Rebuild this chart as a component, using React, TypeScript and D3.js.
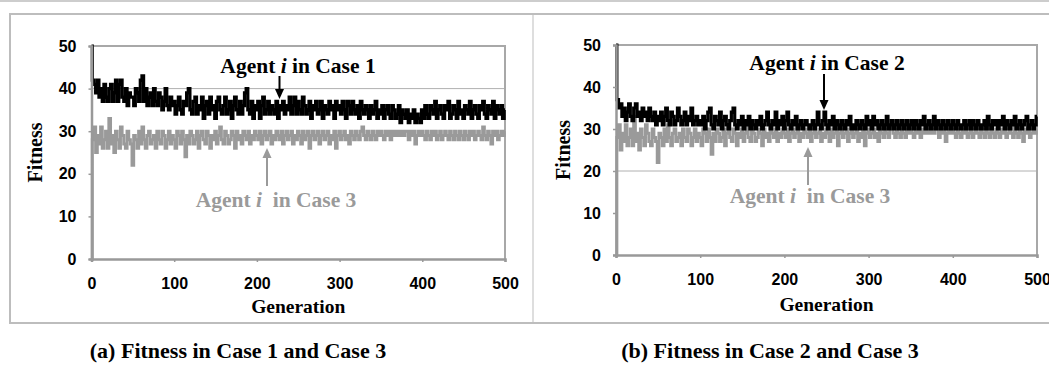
import React, {useEffect, useRef} from "react";
import * as d3 from "d3";

// fitness, one value every 2 generations (0..500)
const generationStep = 2;

const case1Fitness = [
    50, 42, 41, 39, 42, 38, 40, 37, 41, 38, 37, 40, 41, 37, 39, 42, 37, 41, 42, 38, 37, 40, 36, 39, 38,
    38, 36, 40, 39, 37, 42, 43, 37, 40, 36, 38, 39, 36, 40, 37, 36, 39, 38, 35, 37, 40, 36, 35, 38, 36,
    37, 34, 36, 38, 35, 34, 37, 36, 39, 40, 35, 34, 37, 38, 34, 36, 35, 38, 33, 36, 37, 34, 38, 35, 36,
    33, 37, 38, 35, 34, 36, 38, 34, 35, 37, 33, 36, 38, 35, 34, 37, 34, 36, 39, 40, 35, 34, 37, 33, 36,
    35, 37, 33, 36, 38, 34, 35, 37, 34, 36, 35, 34, 37, 33, 36, 35, 37, 34, 36, 35, 38, 34, 36, 38, 34,
    37, 35, 34, 38, 36, 34, 35, 37, 33, 36, 35, 37, 34, 35, 37, 33, 36, 35, 34, 37, 35, 36, 33, 37, 35,
    36, 34, 37, 35, 33, 37, 36, 34, 37, 35, 34, 36, 33, 37, 35, 34, 36, 35, 33, 36, 34, 35, 37, 33, 35,
    34, 36, 33, 35, 36, 34, 33, 36, 35, 33, 34, 36, 32, 35, 34, 33, 35, 32, 34, 33, 35, 32, 34, 33, 32,
    35, 33, 36, 34, 33, 36, 35, 34, 37, 33, 35, 36, 34, 33, 36, 35, 37, 33, 34, 36, 35, 33, 37, 34, 35,
    33, 36, 35, 34, 37, 33, 35, 36, 34, 33, 36, 35, 37, 34, 33, 36, 35, 34, 37, 33, 36, 35, 34, 36, 33,
    35
];

const case2Fitness = [
    50, 37, 35, 36, 33, 35, 32, 34, 36, 33, 32, 35, 36, 33, 34, 32, 35, 33, 34, 32, 35, 33, 32, 34, 31,
    33, 32, 34, 31, 33, 35, 32, 31, 34, 33, 31, 32, 35, 33, 31, 32, 34, 31, 33, 32, 35, 31, 32, 33, 31,
    32, 31, 33, 30, 32, 34, 35, 31, 30, 33, 32, 31, 34, 30, 32, 33, 31, 30, 32, 34, 35, 31, 30, 32, 31,
    33, 30, 32, 31, 33, 30, 32, 31, 30, 32, 31, 33, 30, 31, 32, 34, 31, 30, 32, 31, 34, 30, 32, 31, 33,
    30, 32, 34, 31, 30, 32, 31, 33, 30, 31, 32, 30, 31, 32, 31, 30, 31, 32, 30, 31, 34, 31, 30, 32, 34,
    31, 30, 32, 31, 33, 30, 32, 31, 30, 32, 31, 30, 32, 31, 33, 30, 31, 30, 32, 31, 30, 32, 31, 30, 33,
    31, 32, 30, 33, 31, 32, 30, 31, 32, 30, 31, 33, 30, 31, 32, 30, 31, 32, 30, 31, 32, 30, 31, 32, 30,
    31, 32, 30, 32, 31, 30, 32, 31, 33, 30, 31, 32, 30, 31, 33, 30, 32, 31, 30, 32, 31, 30, 32, 31, 30,
    32, 31, 30, 32, 31, 30, 31, 32, 30, 31, 32, 30, 32, 31, 30, 32, 31, 30, 31, 32, 30, 33, 31, 30, 32,
    31, 32, 30, 32, 31, 33, 30, 32, 31, 30, 32, 31, 33, 30, 31, 32, 30, 31, 32, 33, 30, 31, 32, 30, 31,
    33
];

// case 3 is the same run in both panels
const case3Fitness = [
    0, 28, 31, 25, 29, 27, 31, 26, 28, 30, 26, 33, 27, 29, 25, 30, 28, 26, 31, 29, 27, 26, 30, 28, 27,
    22, 29, 28, 26, 30, 27, 31, 28, 26, 29, 30, 27, 28, 29, 26, 30, 28, 27, 30, 29, 26, 28, 30, 27, 29,
    28, 26, 30, 29, 27, 30, 28, 24, 29, 27, 30, 29, 27, 28, 30, 26, 29, 30, 28, 27, 30, 29, 26, 29, 28,
    30, 27, 29, 31, 28, 27, 30, 29, 27, 28, 30, 29, 26, 30, 28, 29, 27, 30, 29, 28, 30, 27, 29, 28, 30,
    29, 28, 30, 27, 29, 30, 28, 29, 30, 27, 29, 28, 30, 29, 28, 30, 27, 29, 30, 28, 29, 30, 27, 29, 28,
    30, 29, 27, 30, 28, 29, 30, 26, 29, 30, 28, 29, 30, 27, 29, 30, 28, 29, 30, 27, 29, 28, 30, 26, 29,
    30, 28, 29, 30, 28, 29, 27, 30, 29, 28, 30, 29, 28, 30, 31, 29, 28, 30, 29, 28, 30, 29, 28, 30, 29,
    30, 29, 28, 30, 29, 30, 28, 30, 29, 30, 29, 30, 29, 30, 29, 30, 30, 28, 30, 29, 30, 27, 29, 30, 29,
    30, 29, 28, 30, 29, 28, 30, 29, 30, 28, 29, 30, 28, 29, 30, 29, 28, 30, 29, 28, 30, 29, 28, 30, 29,
    28, 30, 29, 28, 30, 29, 30, 28, 29, 30, 29, 28, 31, 29, 28, 30, 29, 27, 30, 29, 30, 28, 29, 30, 29,
    30
];

const xTicks = [0, 100, 200, 300, 400, 500];
const yTicks = [0, 10, 20, 30, 40, 50];
const captions = ["(a) Fitness in Case 1 and Case 3", "(b) Fitness in Case 2 and Case 3"];

const BLACK = "#000";
const GRAY = "#9a9a9a";
const FRAME = "#bdbdbd";
const SERIF = "'Liberation Serif', 'Times New Roman', serif";
const SANS = "'Liberation Sans', Arial, sans-serif";

interface PanelCfg {
    left: number;
    right: number;
    top: number;
    bottom: number;
    main: number[];
    caseNo: number;
    gridAt: number;
    caption: string;
    captionX: number;
    fitnessX: number;
    generationY: number;
    mainLabel: {x: number; y: number};
    mainArrow: {x: number; y1: number; y2: number};
    grayLabel: {x: number; y: number};
    grayArrow: {x: number; y1: number; y2: number};
}

const panels: PanelCfg[] = [
    {
        left: 91.5, right: 505, top: 46, bottom: 259, main: case1Fitness, caseNo: 1, gridAt: 40,
        caption: captions[0], captionX: 238, fitnessX: 42, generationY: 313,
        mainLabel: {x: 298, y: 73}, mainArrow: {x: 279.5, y1: 76, y2: 99},
        grayLabel: {x: 276, y: 207}, grayArrow: {x: 267, y1: 186, y2: 148}
    },
    {
        left: 616, right: 1037, top: 45, bottom: 255, main: case2Fitness, caseNo: 2, gridAt: 20,
        caption: captions[1], captionX: 770, fitnessX: 570, generationY: 311,
        mainLabel: {x: 827, y: 70}, mainArrow: {x: 824, y1: 74, y2: 110},
        grayLabel: {x: 810, y: 203}, grayArrow: {x: 808, y1: 185, y2: 147}
    }
];

type Sel = d3.Selection<SVGGElement, unknown, null, undefined>;

function serifText(g: Sel, x: number, y: number, size: number, color: string,
                   parts: {t: string; italic?: boolean}[], rotate = 0) {
    const t = g.append("text")
        .attr("transform", `translate(${x},${y}) rotate(${rotate})`)
        .attr("text-anchor", "middle")
        .attr("font-family", SERIF)
        .attr("font-weight", "bold")
        .attr("font-size", size)
        .attr("fill", color)
        .style("white-space", "pre");
    parts.forEach(p => {
        t.append("tspan").attr("font-style", p.italic ? "italic" : "normal").text(p.t);
    });
}

function arrow(g: Sel, x: number, y1: number, y2: number, color: string) {
    const dir = y2 > y1 ? 1 : -1;
    g.append("line")
        .attr("x1", x).attr("x2", x)
        .attr("y1", y1).attr("y2", y2 - dir * 8)
        .attr("stroke", color).attr("stroke-width", 2);
    g.append("path")
        .attr("d", `M${x - 4.5},${y2 - dir * 10}L${x + 4.5},${y2 - dir * 10}L${x},${y2}Z`)
        .attr("fill", color);
}

const App: React.FC = () => {
    const svgRef = useRef<SVGSVGElement>(null);
    const width = 1049;
    const height = 365;

    useEffect(() => {
        const svg = d3.select(svgRef.current);
        svg.selectAll("*").remove();
        const root = svg.append("g") as unknown as Sel;

        // page frame
        root.append("line").attr("x1", 0).attr("x2", width).attr("y1", 1).attr("y2", 1)
            .attr("stroke", FRAME).attr("stroke-width", 1.5);
        root.append("rect").attr("x", 10).attr("y", 14).attr("width", width + 10).attr("height", 309)
            .attr("fill", "none").attr("stroke", FRAME).attr("stroke-width", 2);
        root.append("line").attr("x1", 533).attr("x2", 533).attr("y1", 14).attr("y2", 323)
            .attr("stroke", FRAME).attr("stroke-width", 1);

        panels.forEach(p => {
            const g = root.append("g") as unknown as Sel;
            const x = d3.scaleLinear().domain([0, 500]).range([p.left, p.right]);
            const y = d3.scaleLinear().domain([0, 50]).range([p.bottom, p.top]);

            // grid + frame
            g.append("line").attr("x1", p.left).attr("x2", p.right)
                .attr("y1", y(p.gridAt)).attr("y2", y(p.gridAt))
                .attr("stroke", "#b0b0b0").attr("stroke-width", 1);
            g.append("path")
                .attr("d", `M${p.left},${y(50)}H${p.right}V${p.bottom}`)
                .attr("fill", "none").attr("stroke", "#a8a8a8").attr("stroke-width", 2);

            const line = d3.line<number>()
                .x((_, i) => x(i * generationStep))
                .y(d => y(d))
                .curve(d3.curveStep);

            g.append("path").datum(case3Fitness)
                .attr("fill", "none").attr("stroke", GRAY).attr("stroke-width", 3)
                .attr("d", line);
            g.append("path").datum(p.main)
                .attr("fill", "none").attr("stroke", BLACK).attr("stroke-width", 3.2)
                .attr("d", line);

            const xAxis = g.append("g")
                .attr("transform", `translate(0,${p.bottom})`)
                .call(d3.axisBottom(x).tickValues(xTicks).tickSize(3).tickPadding(16).tickFormat(d3.format("d")));
            const yAxis = g.append("g")
                .attr("transform", `translate(${p.left},0)`)
                .call(d3.axisLeft(y).tickValues(yTicks).tickSize(3).tickPadding(12).tickFormat(d3.format("d")));
            [xAxis, yAxis].forEach(a => {
                a.select(".domain").attr("stroke", "#999").attr("stroke-width", 2.5);
                a.selectAll(".tick line").attr("stroke", "#999").attr("stroke-width", 1.5);
                a.selectAll(".tick text")
                    .attr("fill", BLACK)
                    .attr("font-family", SANS)
                    .attr("font-weight", "bold")
                    .attr("font-size", 16);
            });

            serifText(g, (p.left + p.right) / 2, p.generationY, 19.5, BLACK, [{t: "Generation"}]);
            serifText(g, p.fitnessX, (p.top + p.bottom) / 2, 20, BLACK, [{t: "Fitness"}], -90);

            serifText(g, p.mainLabel.x, p.mainLabel.y, 21.5, BLACK,
                [{t: "Agent "}, {t: "i", italic: true}, {t: ` in Case ${p.caseNo}`}]);
            arrow(g, p.mainArrow.x, p.mainArrow.y1, p.mainArrow.y2, BLACK);
            serifText(g, p.grayLabel.x, p.grayLabel.y, 21.5, GRAY,
                [{t: "Agent "}, {t: "i", italic: true}, {t: "  in Case 3"}]);
            arrow(g, p.grayArrow.x, p.grayArrow.y1, p.grayArrow.y2, GRAY);

            serifText(g, p.captionX, 358, 22, BLACK, [{t: p.caption}]);
        });
    }, []);

    return (
        <svg ref={svgRef} width={width} height={height}
             style={{position: "absolute", left: 0, top: 0, background: "#fff"}}></svg>
    );
};

export default App;
